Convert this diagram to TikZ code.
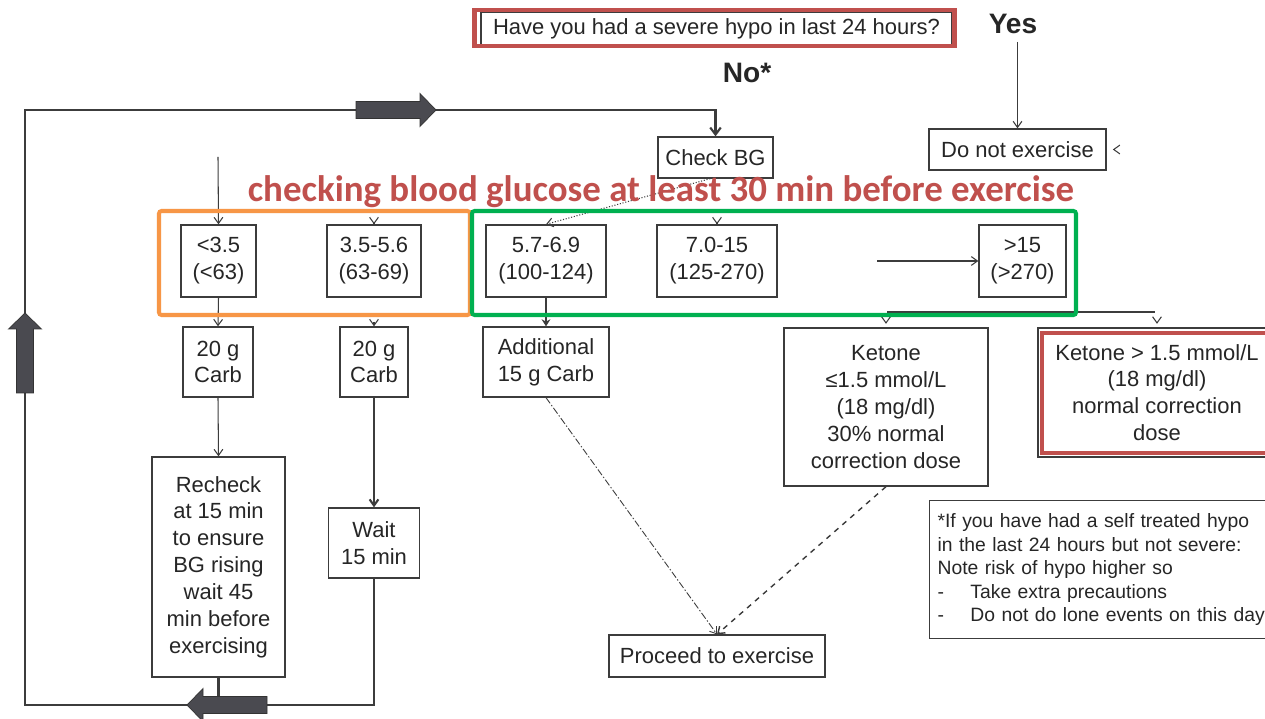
\documentclass[tikz,border=0pt]{standalone}
\usepackage{fontspec}
\setmainfont{Liberation Sans}
\newfontfamily\headfont{Carlito}
\usetikzlibrary{shapes,arrows.meta,positioning,calc}
\definecolor{boxgray}{HTML}{3C3C3C}
\definecolor{fatgray}{HTML}{4A4A50}
\definecolor{hlred}{HTML}{C0504D}
\definecolor{hlorange}{HTML}{F79646}
\definecolor{hlgreen}{HTML}{00B050}
\tikzset{
  box/.style={draw=boxgray, line width=0.75pt, rectangle, inner sep=0pt, align=center,
    text=black!85, font={\fontsize{12.5}{15.3}\selectfont}},
  sz/.style 2 args={minimum width=#1*0.02cm, minimum height=#2*0.02cm},
  arr/.style={draw=boxgray, line width=0.6pt, -{Straight Barb[length=3.5pt,width=5pt]}},
  loopline/.style={draw=boxgray, line width=1.2pt},
  fatarrow/.pic={
    \filldraw[fill=fatgray, draw=black!80, line width=0.4pt]
      (-40,-8.5) -- (24,-8.5) -- (24,-16.5) -- (40,0) -- (24,16.5) -- (24,8.5) -- (-40,8.5) -- cycle;},
  hlbox/.style={line width=2.3pt, rounded corners=1.5pt},
  yesno/.style={font={\bfseries\fontsize{16}{19}\selectfont}, text=black!85},
}
\begin{document}
\begin{tikzpicture}[x=0.02cm,y=-0.02cm]
    \clip (0,0) rectangle (1265,719);
    \fill[white] (0,0) rectangle (1265,719);

    \node[box, sz={471}{33}] (q) at (716.5,28.5) {Have you had a severe hypo in last 24 hours?};
    \node[yesno] (yes) at (1013,24) {Yes};
    \node[yesno] (no) at (747,73) {No*};

    \node[box, sz={115}{41}] (chk) at (715.5,157.5) {Check BG};
    \node[box, sz={177}{41}] (noex) at (1017.5,149.5) {Do not exercise};

    % BG ranges
    \node[box, sz={75}{72}] (r1) at (218.5,261) {<3.5\\(<63)};
    \node[box, sz={94}{72}] (r2) at (374,261) {3.5-5.6\\(63-69)};
    \node[box, sz={120}{72}] (r3) at (546,261) {5.7-6.9\\(100-124)};
    \node[box, sz={120}{72}] (r4) at (717,261) {7.0-15\\(125-270)};
    \node[box, sz={87}{72}] (r5) at (1022.5,261) {>15\\(>270)};

    \node[box, sz={70}{70}] (c1) at (218,362) {20 g\\Carb};
    \node[box, sz={68}{70}] (c2) at (374,362) {20 g\\Carb};
    \node[box, sz={126}{70}] (c3) at (546,362) {Additional\\15 g Carb};

    \node[box, sz={133}{220}] (rechk) at (218.5,567) {Recheck\\at 15 min\\to ensure\\BG rising\\wait 45\\min before\\exercising};
    \node[box, sz={91}{70}] (wait) at (374,543) {Wait\\15 min};

    \node[box, sz={204}{158}] (k1) at (886,407) {Ketone\\≤1.5 mmol/L\\(18 mg/dl)\\30\% normal\\correction dose};
    \node[box, sz={238}{129}] (k2) at (1157,392.5) {Ketone > 1.5 mmol/L\\(18 mg/dl)\\normal correction\\dose};

    \node[box, sz={216}{42}] (go) at (717,656) {Proceed to exercise};
    \node[box, anchor=north west, inner xsep=4.5pt, text width=7.2cm, minimum height=138*0.02cm,
      align=left, font={\fontsize{11}{13.3}\selectfont}] (note) at (929,500)
      {*If you have had a self treated hypo\\in the last 24 hours but not severe:\\Note risk of hypo higher so\\
       \makebox[18.7pt][l]{-}Take extra precautions\\\makebox[18.7pt][l]{-}Do not do lone events on this day};

    \coordinate (bl) at (25,705);
    \coordinate (tl) at (25,110);
    \coordinate (in1) at (218,157);
    \coordinate (hi) at (877,261);
    \coordinate (bar1) at (887,312);
    \coordinate (bar2) at (1155,312);

    % loop back
    \draw[loopline, -{Straight Barb[length=4pt,width=6pt]}] (wait.south) |- (bl) -- (tl) -| (chk.north);
    \draw[loopline] (rechk.south) -- (rechk.south |- bl);
    \pic at (396,110) {fatarrow};
    \pic[rotate=90] at (25,353) {fatarrow};
    \pic[rotate=180] at (227,705) {fatarrow};

    \draw[arr] (noex.north |- 0,42) -- (noex.north);
    \draw[arr] ([xshift=4pt]noex.east) -- ([xshift=3.5pt]noex.east);

    \draw[arr] (in1) -- (r1.north);
    \draw[arr] ([yshift=0.5pt]r2.north) -- (r2.north);
    \draw[arr, densely dotted] ([xshift=-3pt]chk.south) -- (r3.north);
    \draw[arr] ([yshift=0.5pt]r4.north) -- (r4.north);
    \draw[arr] (hi) -- (r5.west);

    \draw[arr] (r1.south) -- (c1.north);
    \draw[arr] ([yshift=2.5pt]c2.north) -- (c2.north);
    \draw[draw=boxgray, line width=1.2pt, -{Stealth[length=4pt,width=5pt]}] (r3.south) -- (c3.north);
    \draw[arr] (c1.south) -- (rechk.north);
    \draw[arr, line width=1.2pt] (c2.south) -- (wait.north);

    \draw[draw=boxgray, line width=0.75pt] (bar1) -- (bar2);
    \draw[arr] ([yshift=3pt]k1.north) -- ([yshift=2pt]k1.north);
    \draw[arr] ([yshift=3pt]k2.north) -- ([yshift=2pt]k2.north);

    \draw[arr, dash pattern=on 4pt off 1.2pt on 0.8pt off 1.2pt, line width=0.5pt] (c3.south) -- (go.north);
    \draw[arr, dashed, line width=0.8pt] (k1.south) -- (go.north);

    % highlights
    \draw[hlred, line width=2.3pt] (474.5,10) rectangle (954.5,46);
    \draw[hlred, line width=2.5pt] (1042,333) rectangle (1290,453);
    \draw[hlorange, hlbox] (159,211) rectangle (470,315);
    \draw[hlgreen, hlbox] (472,211) rectangle (1076,315);

    \node[text=hlred, font={\headfont\bfseries\fontsize{21}{25}\selectfont}] (head) at (661,192)
      {checking blood glucose at least 30 min before exercise};
\end{tikzpicture}
\end{document}
